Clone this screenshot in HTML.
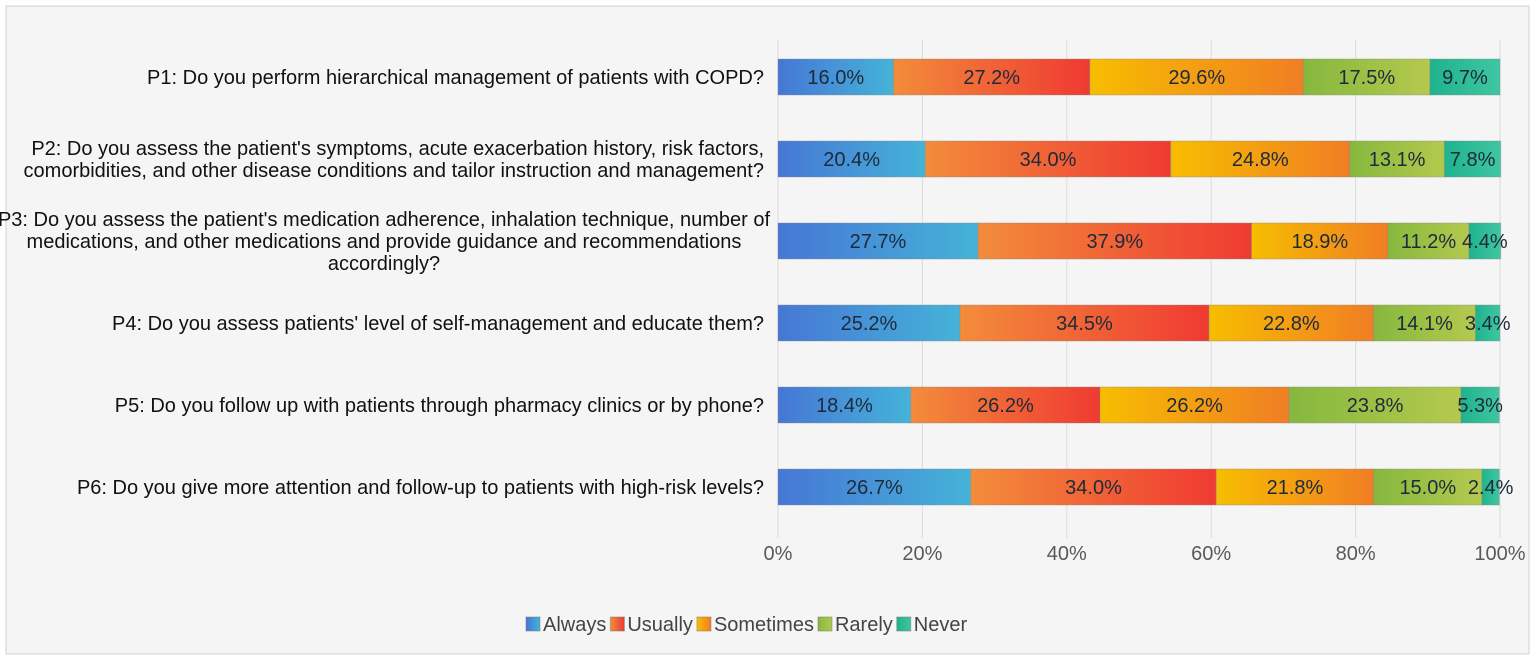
<!DOCTYPE html>
<html><head><meta charset="utf-8"><style>
body{margin:0;background:#fff;}
#wrap{position:absolute;left:0;top:0;width:1535px;height:660px;}
text{font-family:"Liberation Sans",sans-serif;}
</style></head><body>
<div id="wrap">
<svg id="chart" width="1535" height="660">
<defs>
<linearGradient id="g0" x1="0" x2="1"><stop offset="0" stop-color="#4677d6"/><stop offset="1" stop-color="#45b3d8"/></linearGradient>
<linearGradient id="g1" x1="0" x2="1"><stop offset="0" stop-color="#f28c3a"/><stop offset="1" stop-color="#ef3a32"/></linearGradient>
<linearGradient id="g2" x1="0" x2="1"><stop offset="0" stop-color="#f7bd00"/><stop offset="1" stop-color="#f07e24"/></linearGradient>
<linearGradient id="g3" x1="0" x2="1"><stop offset="0" stop-color="#86b83e"/><stop offset="1" stop-color="#b4c94e"/></linearGradient>
<linearGradient id="g4" x1="0" x2="1"><stop offset="0" stop-color="#1fb38d"/><stop offset="1" stop-color="#3fc6a2"/></linearGradient>
</defs>
<rect x="6" y="6" width="1523" height="648" fill="#f5f5f5" stroke="#d0d0d0"/>
<g id="grid"></g><g id="bars"></g><g id="labels"></g><g id="ticks"></g><g id="legend"></g>
</svg>
</div>
<script>
const categories=[
 ["P1: Do you perform hierarchical management of patients with COPD?"],
 ["P2: Do you assess the patient's symptoms, acute exacerbation history, risk factors,","comorbidities, and other disease conditions and tailor instruction and management?"],
 ["P3: Do you assess the patient's medication adherence, inhalation technique, number of","medications, and other medications and provide guidance and recommendations","accordingly?"],
 ["P4: Do you assess patients' level of self-management and educate them?"],
 ["P5: Do you follow up with patients through pharmacy clinics or by phone?"],
 ["P6: Do you give more attention and follow-up to patients with high-risk levels?"]
];
const seriesNames=["Always","Usually","Sometimes","Rarely","Never"];
const always=[16.0,20.4,27.7,25.2,18.4,26.7];
const usually=[27.2,34.0,37.9,34.5,26.2,34.0];
const sometimes=[29.6,24.8,18.9,22.8,26.2,21.8];
const rarely=[17.5,13.1,11.2,14.1,23.8,15.0];
const never=[9.7,7.8,4.4,3.4,5.3,2.4];
const tickValues=[0,20,40,60,80,100];
const tickLabels=["0%","20%","40%","60%","80%","100%"];

const NS="http://www.w3.org/2000/svg";
const FS=20;
function mk(tag,attrs,parent,txt){const e=document.createElementNS(NS,tag);for(const k in attrs)e.setAttribute(k,attrs[k]);if(txt!=null)e.textContent=txt;document.getElementById(parent).appendChild(e);return e;}
const X0=778,X1=1500;
const xs=v=>X0+(X1-X0)*v/100;
const yc=i=>77+82*i;
const BH=36;
tickValues.forEach((v,i)=>{
 const l=mk('line',{x1:xs(v),x2:xs(v),y1:40,y2:538,stroke:'#dcdcdc','stroke-width':1},'grid');
 
 
 const t=mk('text',{x:xs(v),y:560,'text-anchor':'middle','font-size':FS,fill:'#595959'},'ticks',tickLabels[i]);
 
 
});
const series=[always,usually,sometimes,rarely,never];
categories.forEach((lines,i)=>{
 let acc=0;
 series.forEach((s,k)=>{
  const v=s[i];
  const r=mk('rect',{x:xs(acc),y:yc(i)-BH/2,width:xs(acc+v)-xs(acc),height:BH,fill:`url(#g${k})`,stroke:'#8a8a8a','stroke-opacity':0.4,'stroke-width':1},'bars');
  
  
  const t=mk('text',{x:(xs(acc)+xs(acc+v))/2,y:yc(i)+7,'text-anchor':'middle','font-size':FS,fill:'#1e2a3a'},'bars',v.toFixed(1)+'%');
  
  
  acc+=v;
 });
 const n=lines.length;
 lines.forEach((ln,j)=>{
  const anchor=(n===3)?'middle':'end';
  const x=(n===3)?384:764;
  const t=mk('text',{x:x,y:yc(i)+7+(j-(n-1)/2)*22,'text-anchor':anchor,'font-size':FS,fill:'#111'},'labels',ln);
  
  
 });
});
let lx=526;
seriesNames.forEach((nm,k)=>{
 const r=mk('rect',{x:lx,y:617,width:14,height:14,fill:`url(#g${k})`,stroke:'#777','stroke-opacity':0.5},'legend');
 
 
 const t=mk('text',{x:lx+17,y:631,'font-size':FS,fill:'#444'},'legend',nm);
 
 
 lx+=17+t.getComputedTextLength()+4;
});
</script>
</body></html>
